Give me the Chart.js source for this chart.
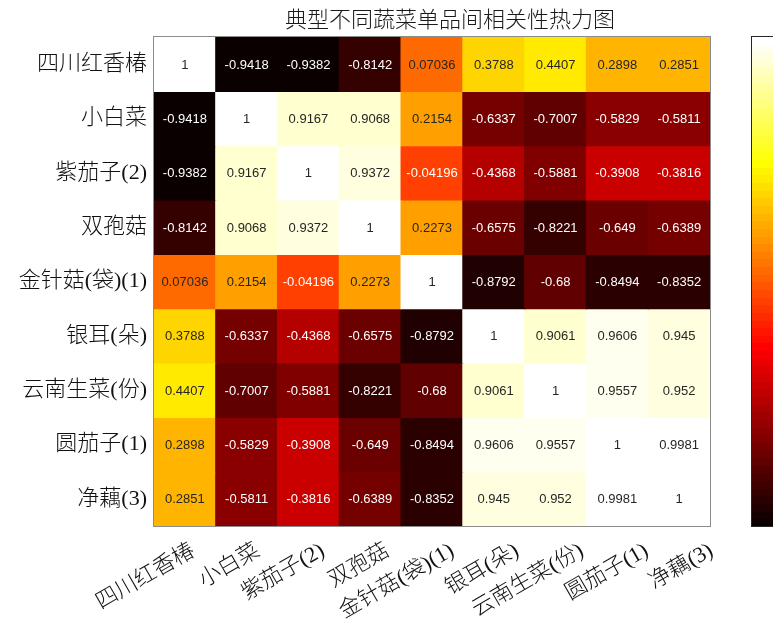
<!doctype html>
<html>
<head>
<meta charset="UTF-8">
<title>典型不同蔬菜单品间相关性热力图</title>
<style>
  html, body { margin: 0; padding: 0; background: #fff; }
  #wrap { width: 773px; height: 622px; }
</style>
</head>
<body>
<div id="wrap"><canvas id="heat"></canvas></div>
<script src="https://cdn.jsdelivr.net/npm/chart.js@4/dist/chart.umd.min.js"></script>
<script>
// 单品名称（行、列相同顺序）
var veg = ['四川红香椿', '小白菜', '紫茄子(2)', '双孢菇', '金针菇(袋)(1)', '银耳(朵)', '云南生菜(份)', '圆茄子(1)', '净藕(3)'];

// 相关系数矩阵，每行一个数组
var corr = [
  [1, -0.9418, -0.9382, -0.8142, 0.07036, 0.3788, 0.4407, 0.2898, 0.2851],
  [-0.9418, 1, 0.9167, 0.9068, 0.2154, -0.6337, -0.7007, -0.5829, -0.5811],
  [-0.9382, 0.9167, 1, 0.9372, -0.04196, -0.4368, -0.5881, -0.3908, -0.3816],
  [-0.8142, 0.9068, 0.9372, 1, 0.2273, -0.6575, -0.8221, -0.649, -0.6389],
  [0.07036, 0.2154, -0.04196, 0.2273, 1, -0.8792, -0.68, -0.8494, -0.8352],
  [0.3788, -0.6337, -0.4368, -0.6575, -0.8792, 1, 0.9061, 0.9606, 0.945],
  [0.4407, -0.7007, -0.5881, -0.8221, -0.68, 0.9061, 1, 0.9557, 0.952],
  [0.2898, -0.5829, -0.3908, -0.649, -0.8494, 0.9606, 0.9557, 1, 0.9981],
  [0.2851, -0.5811, -0.3816, -0.6389, -0.8352, 0.945, 0.952, 0.9981, 1]
];

var cMin = -0.9418, cMax = 1;
var title = '典型不同蔬菜单品间相关性热力图';

// matlab 的 hot(64) 色图
var M = 64;
function hot(k) {
  var n = Math.floor(3 / 8 * M);
  var i = k + 1;
  var r = i <= n ? i / n : 1;
  var g = i <= n ? 0 : (i <= 2 * n ? (i - n) / n : 1);
  var b = i <= 2 * n ? 0 : (i - 2 * n) / (M - 2 * n);
  return [r, g, b];
}
function idx(v) {
  var t = (v - cMin) / (cMax - cMin);
  return Math.max(0, Math.min(M - 1, Math.round(t * (M - 1))));
}
function rgb(c) {
  return 'rgb(' + Math.round(c[0] * 255) + ',' + Math.round(c[1] * 255) + ',' + Math.round(c[2] * 255) + ')';
}
function lum(c) { return 0.299 * c[0] + 0.587 * c[1] + 0.114 * c[2]; }

// 每行一个 dataset，用浮动柱子铺满一格
var datasets = corr.map(function (row, i) {
  return {
    data: row.map(function () { return [i, i + 1]; }),
    backgroundColor: row.map(function (v) { return rgb(hot(idx(v))); }),
    borderWidth: 0,
    inflateAmount: 0.6,
    categoryPercentage: 1,
    barPercentage: 1,
    grouped: false
  };
});

var serif = "'Liberation Serif', 'Noto Sans CJK SC', serif";

// 格子里的数字、外框、色条、标题
var heatText = {
  id: 'heatText',
  afterDatasetsDraw: function (chart) {
    var ctx = chart.ctx, xs = chart.scales.x, ys = chart.scales.y, a = chart.chartArea;
    ctx.save();
    ctx.font = "13px 'Liberation Sans', Arial, sans-serif";
    ctx.textAlign = 'center';
    ctx.textBaseline = 'middle';
    corr.forEach(function (row, i) {
      row.forEach(function (v, j) {
        var c = hot(idx(v));
        ctx.fillStyle = lum(c) > 0.5 ? '#262626' : '#ffffff';
        ctx.fillText(String(v), xs.getPixelForValue(j), ys.getPixelForValue(i + 0.5) + 1);
      });
    });
    ctx.strokeStyle = '#8c8c8c';
    ctx.lineWidth = 1;
    ctx.strokeRect(Math.round(a.left) - 0.5, Math.round(a.top) - 0.5, Math.round(a.right - a.left) + 1, Math.round(a.bottom - a.top) + 1);

    // 色条
    var bx = 751, bw = 30, top = a.top, h = a.bottom - a.top;
    for (var k = 0; k < M; k++) {
      var y0 = a.bottom - (k + 1) * h / M;
      ctx.fillStyle = rgb(hot(k));
      ctx.fillRect(bx, Math.floor(y0), bw, Math.ceil(h / M) + 1);
    }
    ctx.strokeStyle = '#262626';
    ctx.strokeRect(bx + 0.5, Math.round(top) - 0.5, bw, Math.round(h) + 1);

    // 标题
    ctx.fillStyle = '#1a1a1a';
    ctx.font = "300 22px 'Noto Sans CJK SC', sans-serif";
    ctx.textAlign = 'center';
    ctx.textBaseline = 'middle';
    ctx.fillText(title, 450, 19);
    ctx.restore();
  }
};

new Chart(document.getElementById('heat'), {
  type: 'bar',
  data: { labels: veg, datasets: datasets },
  options: {
    responsive: true,
    maintainAspectRatio: false,
    animation: false,
    layout: { padding: { top: 37, right: 63, bottom: 0, left: 0 } },
    plugins: { legend: { display: false }, tooltip: { enabled: false }, title: { display: false } },
    scales: {
      x: {
        display: false
      },
      // 底部斜排的名称，间距略宽于格子
      xl: {
        type: 'linear',
        position: 'bottom',
        offset: false,
        min: -0.61,
        max: 7.977,
        grid: { display: false, drawTicks: false },
        border: { display: false },
        afterBuildTicks: function (s) {
          s.ticks = veg.map(function (_, j) { return { value: j }; });
        },
        ticks: {
          color: '#111',
          font: { family: serif, size: 22, weight: 300 },
          minRotation: 30,
          maxRotation: 30,
          padding: 12,
          autoSkip: false,
          callback: function (v) { return veg[Math.round(v)]; }
        },
        afterFit: function (s) { s.height = 96; }
      },
      y: {
        type: 'linear',
        min: 0,
        max: 9,
        reverse: true,
        grid: { display: false, drawTicks: false },
        border: { display: false },
        afterBuildTicks: function (s) {
          s.ticks = veg.map(function (_, i) { return { value: i + 0.5 }; });
        },
        ticks: {
          color: '#111',
          font: { family: serif, size: 22, weight: 300 },
          padding: 7,
          callback: function (v) { return veg[Math.floor(v)]; }
        },
        afterFit: function (s) { s.width = 154; }
      }
    }
  },
  plugins: [heatText]
});
</script>
</body>
</html>
